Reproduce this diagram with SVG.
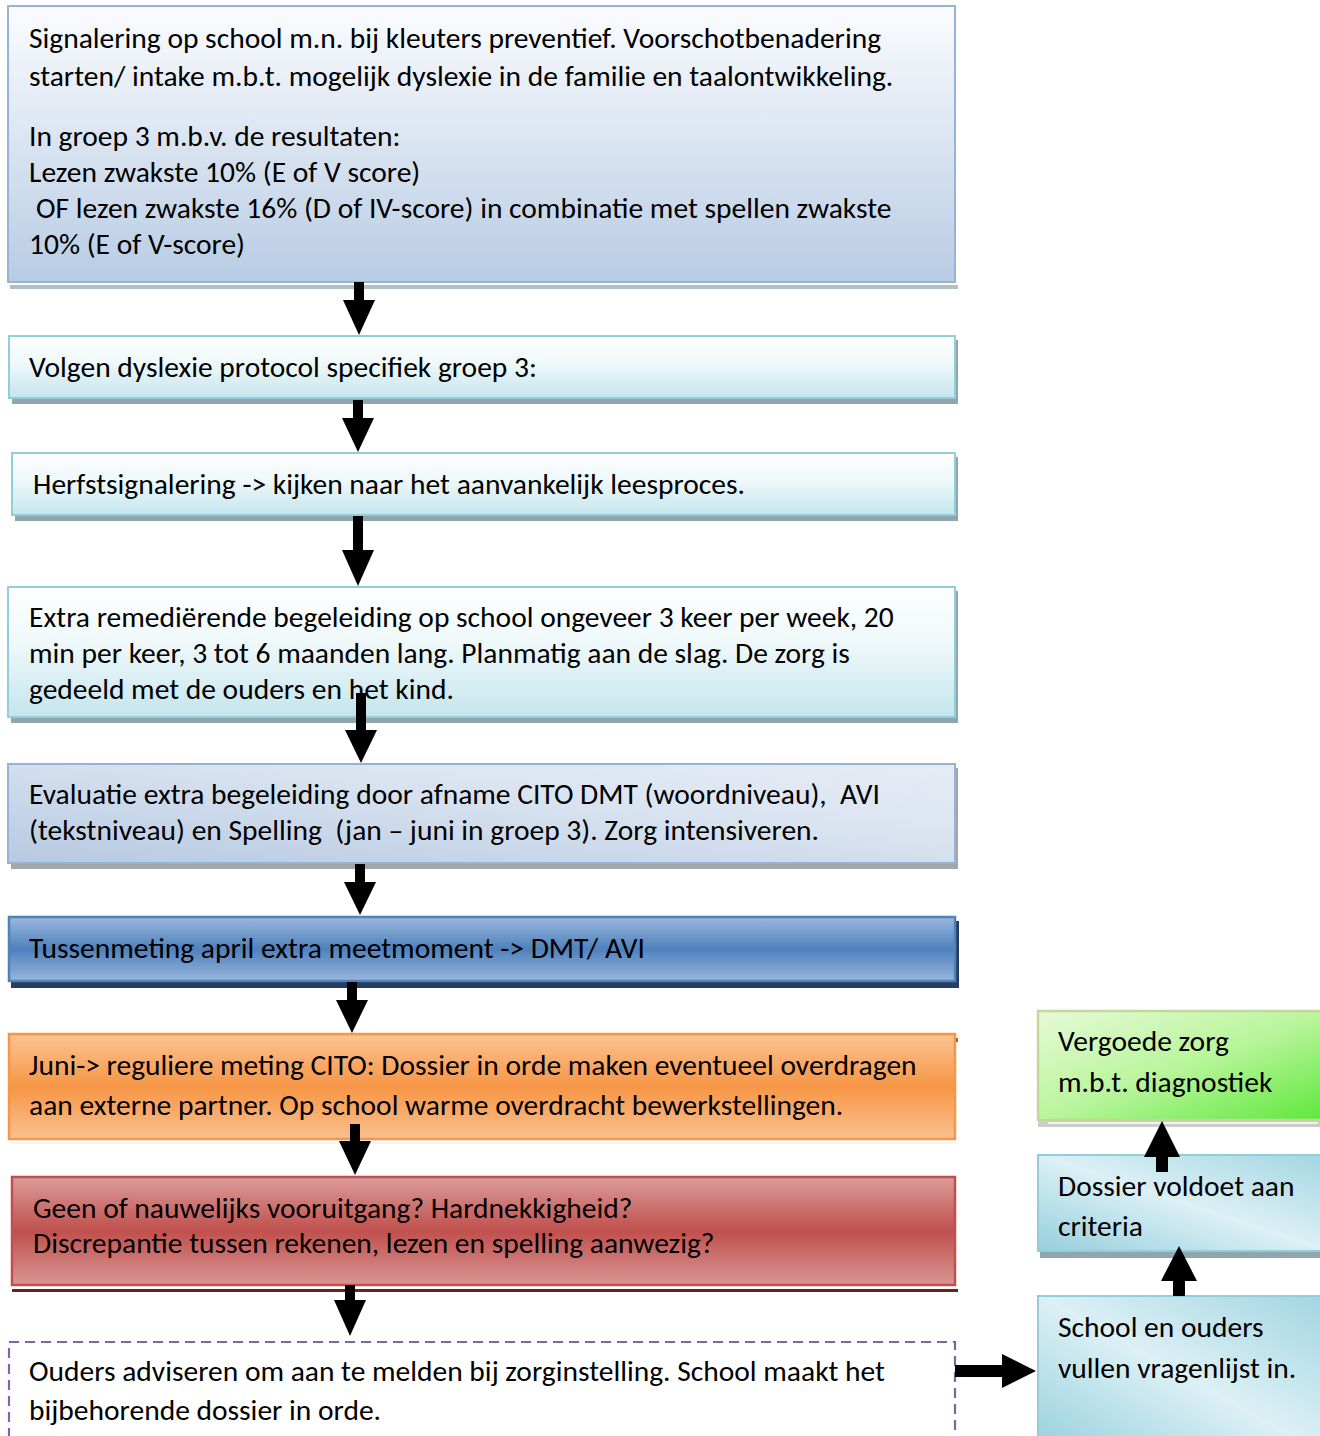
<svg xmlns="http://www.w3.org/2000/svg" width="1320" height="1436" viewBox="0 0 1320 1436">
<defs>
<linearGradient id="gBlueSoft" x1="0" y1="0" x2="0" y2="1"><stop offset="0" stop-color="#fbfcfe"/><stop offset="1" stop-color="#b8cce4"/></linearGradient>
<linearGradient id="gTeal" x1="0" y1="0" x2="0" y2="1"><stop offset="0" stop-color="#ffffff"/><stop offset="0.45" stop-color="#eef8fa"/><stop offset="1" stop-color="#c4e5ed"/></linearGradient>
<linearGradient id="gEval" x1="0" y1="1" x2="1" y2="0"><stop offset="0" stop-color="#b6c9e2"/><stop offset="0.6" stop-color="#d9e3f0"/><stop offset="1" stop-color="#e6ecf5"/></linearGradient>
<linearGradient id="gBlue" x1="0" y1="0" x2="0" y2="1"><stop offset="0" stop-color="#9bb9dd"/><stop offset="0.5" stop-color="#4f81bd"/><stop offset="1" stop-color="#98b6db"/></linearGradient>
<linearGradient id="gOrange" x1="0" y1="0" x2="0" y2="1"><stop offset="0" stop-color="#fbc494"/><stop offset="0.5" stop-color="#f79646"/><stop offset="1" stop-color="#fac08f"/></linearGradient>
<linearGradient id="gRed" x1="0" y1="0" x2="0" y2="1"><stop offset="0" stop-color="#dc9c9a"/><stop offset="0.5" stop-color="#c0504d"/><stop offset="1" stop-color="#d99694"/></linearGradient>
<linearGradient id="gGreen" x1="0" y1="0" x2="1" y2="1"><stop offset="0" stop-color="#e6fad6"/><stop offset="0.5" stop-color="#b9f59c"/><stop offset="1" stop-color="#5de83a"/></linearGradient>
<linearGradient id="gCyan" x1="0" y1="1" x2="1" y2="0"><stop offset="0" stop-color="#95cfdd"/><stop offset="0.5" stop-color="#dcf0f5"/><stop offset="1" stop-color="#a2d5e2"/></linearGradient>
</defs>
<style>
text{font-family:Carlito,Calibri,Lato,"Open Sans",sans-serif;font-size:29.5px;fill:#000;white-space:pre}
.shT{fill:#8fa6ae}
</style>
<rect width="1320" height="1436" fill="#ffffff"/>

<g id="node1">
<rect x="10" y="285" width="948" height="4" fill="#b4bcc4"/>
<rect x="8" y="6" width="947" height="276" fill="url(#gBlueSoft)" stroke="#95b3d7" stroke-width="2"/>
<text x="29" y="48">Signalering op school m.n. bij kleuters preventief. Voorschotbenadering</text>
<text x="29" y="86">starten/ intake m.b.t. mogelijk dyslexie in de familie en taalontwikkeling.</text>
<text x="29" y="146">In groep 3 m.b.v. de resultaten:</text>
<text x="29" y="182">Lezen zwakste 10% (E of V score)</text>
<text x="36" y="218">OF lezen zwakste 16% (D of IV-score) in combinatie met spellen zwakste</text>
<text x="29" y="254">10% (E of V-score)</text>
</g>

<g id="node2">
<rect class="shT" x="12" y="340" width="946" height="64"/>
<rect x="9" y="336" width="946" height="62" fill="url(#gTeal)" stroke="#92cddc" stroke-width="2"/>
<text x="29" y="377">Volgen dyslexie protocol specifiek groep 3:</text>
</g>

<g id="node3">
<rect class="shT" x="15" y="457" width="943" height="64"/>
<rect x="12" y="453" width="943" height="62" fill="url(#gTeal)" stroke="#92cddc" stroke-width="2"/>
<text x="33" y="494">Herfstsignalering -&gt; kijken naar het aanvankelijk leesproces.</text>
</g>

<g id="node4">
<rect class="shT" x="11" y="591" width="947" height="132"/>
<rect x="8" y="587" width="947" height="130" fill="url(#gTeal)" stroke="#92cddc" stroke-width="2"/>
<text x="29" y="627">Extra remediërende begeleiding op school ongeveer 3 keer per week, 20</text>
<text x="29" y="663">min per keer, 3 tot 6 maanden lang. Planmatig aan de slag. De zorg is</text>
<text x="29" y="699">gedeeld met de ouders en het kind.</text>
</g>

<g id="node5">
<rect x="11" y="768" width="947" height="101" fill="#a3a6aa"/>
<rect x="8" y="764" width="947" height="99" fill="url(#gEval)" stroke="#95b3d7" stroke-width="2"/>
<text x="29" y="804">Evaluatie extra begeleiding door afname CITO DMT (woordniveau),  AVI</text>
<text x="29" y="840">(tekstniveau) en Spelling  (jan – juni in groep 3). Zorg intensiveren.</text>
</g>

<g id="node6">
<rect x="11" y="921" width="948" height="67" fill="#243f60"/>
<rect x="9" y="917" width="946" height="64" fill="url(#gBlue)" stroke="#4f81bd" stroke-width="2.5"/>
<text x="29" y="958">Tussenmeting april extra meetmoment -&gt; DMT/ AVI</text>
</g>

<g id="node7">
<rect x="952" y="1038" width="6" height="4" fill="#b65708"/>
<rect x="10" y="1142" width="948" height="2" fill="#f4f4f4"/>
<rect x="9" y="1034" width="946" height="105" fill="url(#gOrange)" stroke="#f79646" stroke-width="2.5"/>
<text x="29" y="1075">Juni-&gt; reguliere meting CITO: Dossier in orde maken eventueel overdragen</text>
<text x="29" y="1115">aan externe partner. Op school warme overdracht bewerkstellingen.</text>
</g>

<g id="node8">
<rect x="12" y="1289" width="946" height="3" fill="#632523"/>
<rect x="12" y="1177" width="943" height="108" fill="url(#gRed)" stroke="#c0504d" stroke-width="2.5"/>
<text x="33" y="1218">Geen of nauwelijks vooruitgang? Hardnekkigheid?</text>
<text x="33" y="1253">Discrepantie tussen rekenen, lezen en spelling aanwezig?</text>
</g>

<g id="node9">
<rect x="9" y="1342" width="946" height="110" fill="#ffffff" stroke="#8064a2" stroke-width="2.2" stroke-dasharray="10 6"/>
<text x="29" y="1381">Ouders adviseren om aan te melden bij zorginstelling. School maakt het</text>
<text x="29" y="1420">bijbehorende dossier in orde.</text>
</g>

<g id="node10">
<rect x="1038" y="1121" width="282" height="6" fill="#c9ccc9"/>
<rect x="1048" y="1122" width="270" height="2" fill="#f2f2f2"/>
<rect x="1038" y="1011" width="290" height="109" fill="url(#gGreen)" stroke="#c3d69b" stroke-width="2.5"/>
<text x="1058" y="1051">Vergoede zorg</text>
<text x="1058" y="1092">m.b.t. diagnostiek</text>
</g>
<g id="node11">
<rect class="shT" x="1040" y="1158" width="290" height="100"/>
<rect x="1038" y="1155" width="290" height="96" fill="url(#gCyan)" stroke="#92cddc" stroke-width="2"/>
<text x="1058" y="1196">Dossier voldoet aan</text>
<text x="1058" y="1236">criteria</text>
</g>
<g id="node12">
<rect x="1038" y="1296" width="290" height="160" fill="url(#gCyan)" stroke="#92cddc" stroke-width="2"/>
<text x="1058" y="1337">School en ouders</text>
<text x="1058" y="1378">vullen vragenlijst in.</text>
</g>

<g id="connectors" fill="#000000">
<polygon points="354,282 364,282 364,300 375,300 359,335 343,300 354,300"/>
<polygon points="353,400 363,400 363,418 374,418 358,452 342,418 353,418"/>
<polygon points="353,516 363,516 363,550 374,550 358,586 342,550 353,550"/>
<polygon points="356,693 366,693 366,730 377,730 361,763 345,730 356,730"/>
<polygon points="355,864 365,864 365,882 376,882 360,915 344,882 355,882"/>
<polygon points="347,982 357,982 357,1000 368,1000 352,1033 336,1000 347,1000"/>
<polygon points="350,1124 360,1124 360,1141 371,1141 355,1175 339,1141 350,1141"/>
<polygon points="345,1285 355,1285 355,1300 366,1300 350,1336 334,1300 345,1300"/>
<polygon points="955,1365 1002,1365 1002,1354 1036,1371 1002,1388 1002,1377 955,1377"/>
<polygon points="1156,1172 1168,1172 1168,1157 1180,1157 1162,1121 1144,1157 1156,1157"/>
<polygon points="1173,1296 1185,1296 1185,1281 1197,1281 1179,1246 1161,1281 1173,1281"/>
</g>
</svg>
